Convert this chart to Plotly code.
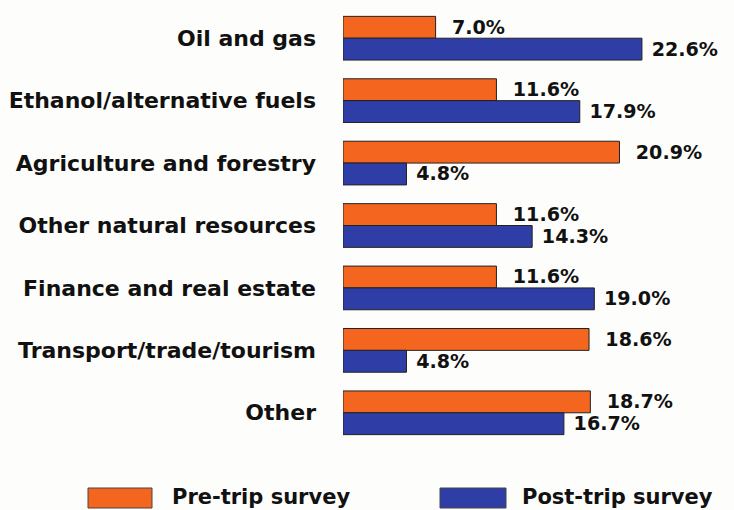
import plotly.graph_objects as go

# survey shares by sector, percent
categories = ["Oil and gas", "Ethanol/alternative fuels", "Agriculture and forestry",
              "Other natural resources", "Finance and real estate",
              "Transport/trade/tourism", "Other"]
pre_trip = [7.0, 11.6, 20.9, 11.6, 11.6, 18.6, 18.7]
post_trip = [22.6, 17.9, 4.8, 14.3, 19.0, 4.8, 16.7]
series_names = ["Pre-trip survey", "Post-trip survey"]

ORANGE = "#F4661F"
BLUE = "#2F3EA6"
FONT = "DejaVu Sans, sans-serif"

fig = go.Figure()
for name, vals, col, pad in [(series_names[0], pre_trip, ORANGE, "  "),
                             (series_names[1], post_trip, BLUE, " ")]:
    fig.add_trace(go.Bar(
        y=categories, x=vals, name=name, orientation="h",
        marker=dict(color=col, line=dict(color="#222222", width=1)),
        text=[f"{pad}{v:.1f}%" for v in vals], textposition="outside",
        textfont=dict(size=21, color="#111111", family=FONT, weight="bold"),
        cliponaxis=False, showlegend=False,
    ))

fig.update_layout(
    width=734, height=510,
    margin=dict(l=343, r=14, t=7, b=66),
    barmode="group", bargap=0.3, bargroupgap=0,
    paper_bgcolor="#FDFDFB", plot_bgcolor="#FDFDFB",
    font=dict(family=FONT, size=22, color="#111111", weight="bold"),
    xaxis=dict(range=[0, 28.5], visible=False),
    yaxis=dict(autorange="reversed", showline=False, showgrid=False, zeroline=False,
               ticks="", ticklabelstandoff=26,
               tickfont=dict(size=22, family=FONT, weight="bold")),
)

# legend drawn below the plot (pixel positions converted to paper coords)
PW, PH, PL, PB = 377, 437, 343, 444
legend_items = [(88, 152, 170, ORANGE, series_names[0]), (440, 506, 520, BLUE, series_names[1])]
for sx0, sx1, tx, col, name in legend_items:
    fig.add_shape(type="rect", xref="paper", yref="paper",
                  x0=(sx0 - PL) / PW, x1=(sx1 - PL) / PW,
                  y0=-(488 - PB) / PH, y1=-(508 - PB) / PH,
                  fillcolor=col, line=dict(color="#444444", width=1))
    fig.add_annotation(xref="paper", yref="paper", x=(tx - PL) / PW, y=-(497 - PB) / PH,
                       text=name, showarrow=False, xanchor="left", yanchor="middle",
                       font=dict(size=21, family=FONT, weight="bold", color="#111111"))

fig.write_html("out.html", config={"displayModeBar": False},
               post_script="document.body.style.margin='0';")
